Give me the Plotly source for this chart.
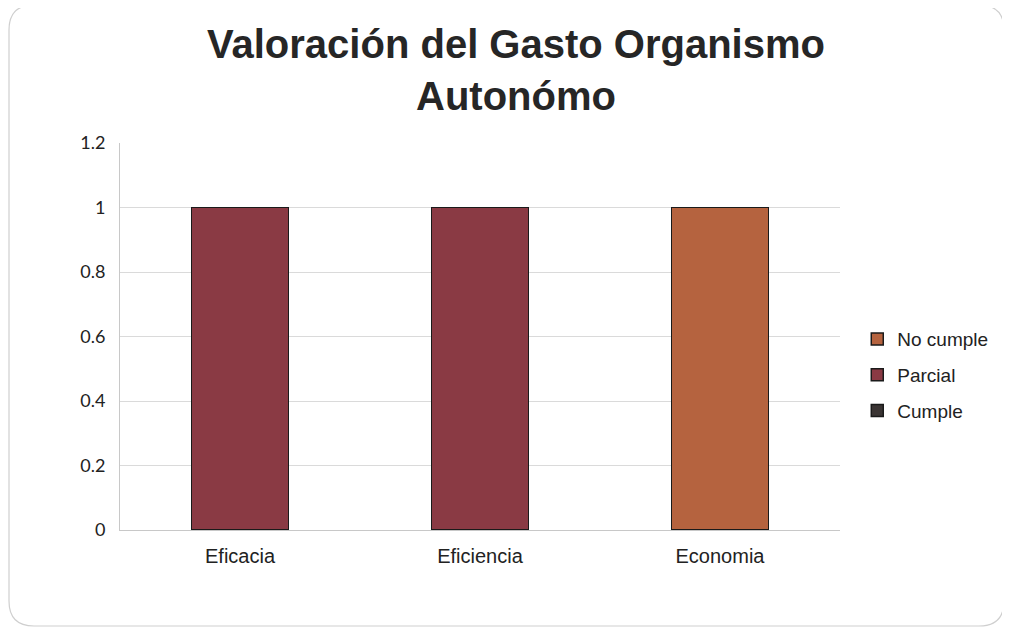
import plotly.graph_objects as go

categories = ["Eficacia", "Eficiencia", "Economia"]
cumple = [0, 0, 0]
parcial = [1, 1, 0]
no_cumple = [0, 0, 1]
y_ticks = [0, 0.2, 0.4, 0.6, 0.8, 1, 1.2]
y_tick_labels = ["0", "0.2", "0.4", "0.6", "0.8", "1", "1.2"]

# page body adds an 8px offset; figure sized to fit the window
W, H = 1002, 621
L, R, T, B = 112, 170, 135, 99
PW, PH = W - L - R, H - T - B


def px_x(px):
    return (px - 8 - L) / PW


def px_y(py):
    return (H - B - (py - 8)) / PH


fig = go.Figure()
line = dict(color="#1a1a1a", width=1.5)
fig.add_trace(go.Bar(x=categories, y=cumple, name="Cumple", legendgroup="c", legendrank=3,
                     marker=dict(color="#3a3433", line=line)))
fig.add_trace(go.Bar(x=categories, y=parcial, name="Parcial", legendgroup="p", legendrank=2,
                     marker=dict(color="#8a3a44", line=line)))
fig.add_trace(go.Bar(x=categories, y=no_cumple, name="No cumple", legendgroup="n", legendrank=1,
                     marker=dict(color="#b5633f", line=line)))

# rounded outer frame
x0, x1 = px_x(9), px_x(1004)
yt, yb = px_y(5), px_y(626)
dx, dy = 25 / PW, 25 / PH
frame = (f"M {x0+dx},{yt} L {x1-dx},{yt} Q {x1},{yt} {x1},{yt-dy} "
         f"L {x1},{yb+dy} Q {x1},{yb} {x1-dx},{yb} L {x0+dx},{yb} "
         f"Q {x0},{yb} {x0},{yb+dy} L {x0},{yt-dy} Q {x0},{yt} {x0+dx},{yt} Z")

fig.update_layout(
    barmode="stack",
    bargap=0.595,
    width=W, height=H,
    paper_bgcolor="white", plot_bgcolor="white",
    margin=dict(l=L, r=R, t=T, b=B),
    font=dict(family="Liberation Sans, Arial, sans-serif", color="#222"),
    title=dict(text="<b>Valoración del Gasto Organismo<br>Autonómo</b>",
               x=0.507, xanchor="center", y=0.92, yanchor="top",
               font=dict(size=40, color="#262626")),
    legend=dict(x=1.024, xanchor="left", y=0.40, yanchor="middle",
                bgcolor="rgba(0,0,0,0)",
                traceorder="grouped", font=dict(size=19, color="#222"),
                itemwidth=30, tracegroupgap=8),
    xaxis=dict(showgrid=False, showline=True, linecolor="#c8c8c8", linewidth=1,
               tickfont=dict(size=20), ticks="", ticklabelstandoff=8),
    yaxis=dict(range=[0, 1.2], tickvals=y_ticks, ticktext=y_tick_labels,
               showgrid=True, gridcolor="#dadada", gridwidth=1,
               showline=True, linecolor="#c8c8c8", linewidth=1,
               tickfont=dict(size=18, family="Lato, sans-serif", color="#222"),
               ticks="", ticklabelstandoff=10, zeroline=False),
    shapes=[dict(type="path", xref="paper", yref="paper", layer="below",
                 path=frame, line=dict(color="#cfcfcf", width=1.2))],
)
fig.write_html("out.html")
